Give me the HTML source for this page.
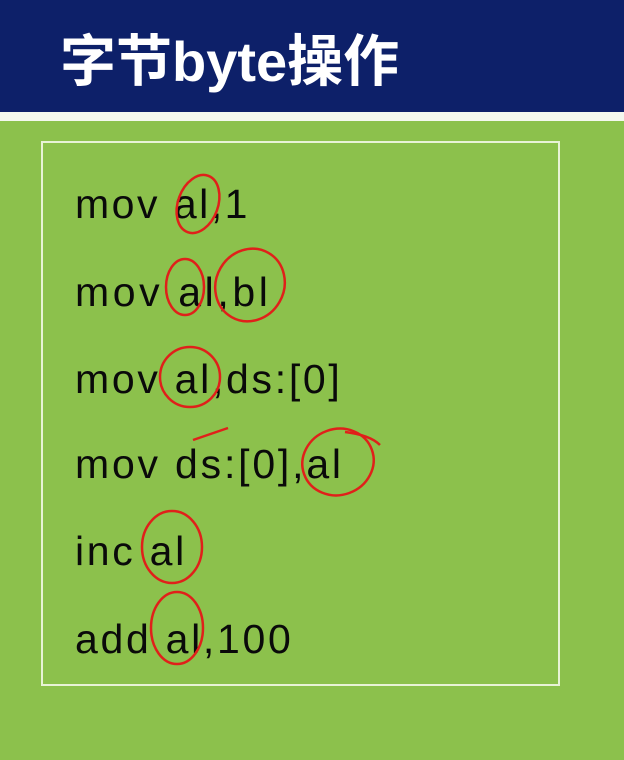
<!DOCTYPE html>
<html><head><meta charset="utf-8"><style>
html,body{margin:0;padding:0}
body{width:624px;height:760px;background:#8cc14c;position:relative;overflow:hidden;font-family:"Liberation Sans","Noto Sans CJK SC",sans-serif}
.hd{position:absolute;left:0;top:0;width:624px;height:112px;background:#0d2069}
.st{position:absolute;left:0;top:112px;width:624px;height:9px;background:#f4f8ee}
.tt{position:absolute;left:60px;top:30px;font-size:56px;font-weight:bold;color:#fff;line-height:64px;letter-spacing:0px}
.box{position:absolute;left:41px;top:141px;width:515px;height:541px;border:2px solid #e8f3d6}
.l{position:absolute;left:75px;font-size:41px;color:#0a0a0a;line-height:40px;letter-spacing:2.7px}
svg{position:absolute;left:0;top:0}
</style></head><body>
<div class="hd"></div><div class="st"></div>
<div class="tt">字节byte操作</div>
<div class="box"></div>
<div class="l" style="top:184px;letter-spacing:2.5px">mov al,1</div>
<div class="l" style="top:272px;letter-spacing:3.6px">mov al,bl</div>
<div class="l" style="top:359px">mov al,ds:[0]</div>
<div class="l" style="top:444px;letter-spacing:2.8px">mov ds:[0],al</div>
<div class="l" style="top:531px">inc al</div>
<div class="l" style="top:619px">add al,100</div>
<svg width="624" height="760" fill="none" stroke="#e0201a" stroke-width="2.5">
<ellipse cx="198" cy="204" rx="20" ry="30" transform="rotate(20 198 204)"/>
<ellipse cx="185" cy="287" rx="19" ry="28"/>
<ellipse cx="250" cy="285" rx="34" ry="37" transform="rotate(30 250 285)"/>
<ellipse cx="190" cy="377" rx="30" ry="30"/>
<path d="M193 440 L228 428"/>
<ellipse cx="338" cy="462" rx="36" ry="33" transform="rotate(-20 338 462)"/>
<path d="M345 432 Q370 435 380 445"/>
<ellipse cx="172" cy="547" rx="30" ry="36"/>
<ellipse cx="177" cy="628" rx="26" ry="36"/>
</svg>
</body></html>
